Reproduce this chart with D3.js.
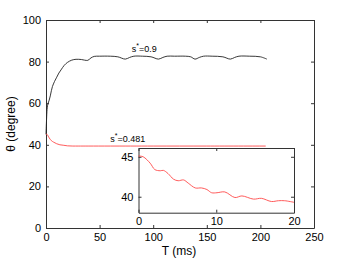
<!DOCTYPE html>
<html><head><meta charset="utf-8">
<script src="https://cdn.jsdelivr.net/npm/d3@7"></script>
<style>body{margin:0;background:#fff}svg{display:block}text{font-family:"Liberation Sans",Arial,sans-serif}</style>
</head><body>
<svg id="c" width="346" height="260"></svg>
<script>
const xTicks = [0, 50, 100, 150, 200, 250];
const yTicks = [0, 20, 40, 60, 80, 100];
const insetXTicks = [0, 10, 20];
const insetYTicks = [40, 45];

const blackT = [0,0.5,1,1.5,2,3,4,5,6,8,10,12,14,17,20,24,28,33,36,39,42,45,50,60,67,74,78,82,90,98,105,109,113,120,130,135,139,143,147,155,165,172,176,180,190,200,206];
const blackTheta = [45,52,57,59,60,61.5,63.5,66,68,70.5,72.5,74.5,76,78.2,79.6,80.7,81.1,81,80.7,80.6,81.8,82.5,82.6,82.6,82.3,81.2,82,82.6,82.6,82.3,81.2,82,82.6,82.6,82.6,82.3,81.2,82,82.6,82.6,82.3,81.2,82,82.6,82.6,82.3,81.2];

const redT = [0,1,2,3,5,7,10,13,16,20,25,30,40,60,100,150,205];
const redTheta = [45.1,45,44.2,43.3,42,41.3,40.5,40,39.8,39.5,39.4,39.4,39.4,39.4,39.4,39.4,39.4];

const insetT = [0,0.6,1.5,2.1,2.8,3.2,3.8,4.5,5.1,5.8,6.4,7.3,8.1,8.8,9.4,10.1,11.1,12.4,13.3,14.8,15.8,17.1,18,18.8,20];
const insetTheta = [45.1,45.0,44.2,43.4,43.25,43.3,42.9,42.2,42.0,42.1,41.7,41.1,41.1,40.9,40.5,40.5,40.6,39.9,40.1,39.7,39.8,39.4,39.5,39.5,39.3];

const labels = [{text:"s", sup:"*", rest:"=0.9", t:80, v:84.5}, {text:"s", sup:"*", rest:"=0.481", t:60, v:41.5}];

const svg = d3.select("#c");
const axisColor = "#333";
const redColor = "#ff4a4a";

const x = d3.scaleLinear().domain([0,250]).range([46,314]);
const y = d3.scaleLinear().domain([0,100]).range([228,20]);

function boxAxes(g, xs, ys, xt, yt, fs) {
  const [x0,x1] = xs.range(), [y0,y1] = ys.range();
  g.append("g").attr("transform",`translate(0,${y0})`)
    .call(d3.axisBottom(xs).tickValues(xt).tickSizeInner(-3).tickSizeOuter(0).tickPadding(5));
  g.append("g").attr("transform",`translate(0,${y1})`)
    .call(d3.axisTop(xs).tickValues(xt).tickSizeInner(-3).tickSizeOuter(0).tickFormat(""));
  g.append("g").attr("transform",`translate(${x0},0)`)
    .call(d3.axisLeft(ys).tickValues(yt).tickSizeInner(-3).tickSizeOuter(0).tickPadding(5));
  g.append("g").attr("transform",`translate(${x1},0)`)
    .call(d3.axisRight(ys).tickValues(yt).tickSizeInner(-3).tickSizeOuter(0).tickFormat(""));
  g.selectAll(".domain").attr("stroke",axisColor);
  g.selectAll(".tick line").attr("stroke",axisColor);
  g.selectAll(".tick text").attr("fill","#000").style("font-size",fs+"px").style("font-family","'Liberation Sans',Arial,sans-serif");
}

const main = svg.append("g");
boxAxes(main, x, y, xTicks, yTicks, 11);

const line = d3.line().x(d=>x(d[0])).y(d=>y(d[1])).curve(d3.curveCatmullRom);
main.append("path").datum(blackT.map((t,i)=>[t,blackTheta[i]]))
  .attr("d",line).attr("fill","none").attr("stroke","#222").attr("stroke-width",0.9);
main.append("path").datum(redT.map((t,i)=>[t,redTheta[i]]))
  .attr("d",line).attr("fill","none").attr("stroke",redColor).attr("stroke-width",0.9);

labels.forEach(l=>{
  const t = main.append("text").attr("x",x(l.t)).attr("y",y(l.v)).style("font-size","9px").attr("fill","#000");
  t.append("tspan").text(l.text);
  t.append("tspan").attr("dy",-4).style("font-size","7px").text(l.sup);
  t.append("tspan").attr("dy",4).text(l.rest);
});

svg.append("text").attr("x",179).attr("y",255).attr("text-anchor","middle").style("font-size","12px").text("T (ms)");
svg.append("text").attr("transform","translate(15,124) rotate(-90)").attr("text-anchor","middle").style("font-size","12px").text("θ (degree)");

// inset
const xi = d3.scaleLinear().domain([0,20]).range([138.5,294]);
const yi = d3.scaleLinear().domain([38,46.1]).range([212.7,148]);
const inset = svg.append("g");
inset.append("rect").attr("x",138.5).attr("y",148).attr("width",294-138.5).attr("height",212.7-148).attr("fill","#fff");
boxAxes(inset, xi, yi, insetXTicks, insetYTicks, 11);
const iline = d3.line().x(d=>xi(d[0])).y(d=>yi(d[1])).curve(d3.curveCatmullRom);
inset.append("path").datum(insetT.map((t,i)=>[t,insetTheta[i]]))
  .attr("d",iline).attr("fill","none").attr("stroke",redColor).attr("stroke-width",0.9);
</script>
</body></html>
